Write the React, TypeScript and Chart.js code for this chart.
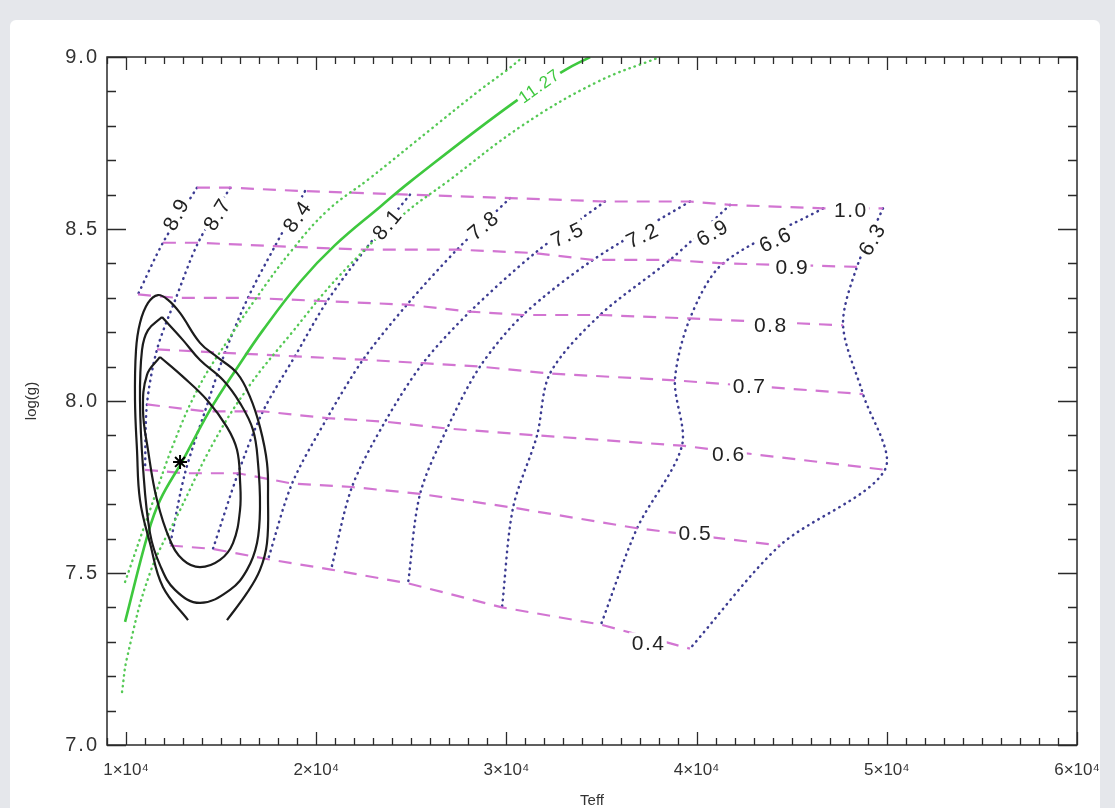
import React, { useEffect, useRef } from "react";
import { Chart, registerables } from "chart.js";
Chart.register(...registerables);

// ---------- axes ----------
const X_MIN = 9000;
const X_MAX = 60000;
const Y_MIN = 7.0;
const Y_MAX = 9.0;
const X_TICK_VALUES = [10000, 20000, 30000, 40000, 50000, 60000];
const X_TICK_LABELS = ["1×10⁴", "2×10⁴", "3×10⁴", "4×10⁴", "5×10⁴", "6×10⁴"];
const Y_TICK_VALUES = [7.0, 7.5, 8.0, 8.5, 9.0];
const Y_TICK_LABELS = ["7.0", "7.5", "8.0", "8.5", "9.0"];
const X_TITLE = "Teff";
const Y_TITLE = "log(g)";

// ---------- mass lines (labels) ----------
const MASS_LABELS = ["1.0", "0.9", "0.8", "0.7", "0.6", "0.5", "0.4"];
const MASS_LABEL_TEFF = [48070, 45000, 43860, 42750, 41650, 39900, 37440];
const MASS_LABEL_LOGG = [8.555, 8.39, 8.221, 8.044, 7.846, 7.616, 7.297];

// ---------- isochrone labels (log age) ----------
const AGE_LABELS = ["8.9", "8.7", "8.4", "8.1", "7.8", "7.5", "7.2", "6.9", "6.6", "6.3"];
const AGE_LABEL_TEFF = [12630, 14780, 18990, 23720, 28770, 33190, 37130, 40810, 44120, 49220];
const AGE_LABEL_LOGG = [8.541, 8.541, 8.535, 8.512, 8.509, 8.483, 8.48, 8.488, 8.468, 8.468];
const AGE_LABEL_ANGLE = [-62, -58, -55, -50, -40, -25, -25, -30, -25, -60];

// ---------- isochrones: Teff / logg at masses 1.0 .. 0.4 ----------
const ISO_89_TEFF = [13730, 11940, 10630, null, null, null, null];
const ISO_89_LOGG = [8.62, 8.46, 8.31, null, null, null, null];
const ISO_87_TEFF = [15470, 13790, 12630, 11630, 11100, 11000, null];
const ISO_87_LOGG = [8.62, 8.46, 8.3, 8.15, 7.99, 7.8, null];
const ISO_84_TEFF = [19410, 17830, 16410, 15200, 14150, 13100, 12310];
const ISO_84_LOGG = [8.61, 8.45, 8.3, 8.14, 7.97, 7.79, 7.58];
const ISO_81_TEFF = [24930, 22570, 20570, 18880, 17200, 15890, 14570];
const ISO_81_LOGG = [8.6, 8.44, 8.29, 8.13, 7.97, 7.79, 7.57];
const ISO_78_TEFF = [30190, 27400, 24770, 22460, 20570, 18730, 17470];
const ISO_78_LOGG = [8.59, 8.44, 8.28, 8.12, 7.95, 7.76, 7.54];
const ISO_75_TEFF = [35180, 31500, 28090, 25610, 23620, 21880, 20780];
const ISO_75_LOGG = [8.58, 8.43, 8.26, 8.11, 7.94, 7.75, 7.51];
const ISO_72_TEFF = [39650, 34550, 30870, 28610, 26880, 25460, 24830];
const ISO_72_LOGG = [8.58, 8.41, 8.25, 8.1, 7.92, 7.73, 7.47];
const ISO_69_TEFF = [41760, 38600, 34920, 32290, 31610, 30350, 29770];
const ISO_69_LOGG = [8.57, 8.41, 8.25, 8.08, 7.9, 7.69, 7.4];
const ISO_66_TEFF = [46650, 41390, 39650, 38860, 39230, 36870, 34970];
const ISO_66_LOGG = [8.56, 8.4, 8.24, 8.06, 7.87, 7.63, 7.35];
const ISO_63_TEFF = [49800, 48430, 47700, 48750, 49900, 44380, 39650];
const ISO_63_LOGG = [8.56, 8.39, 8.22, 8.02, 7.8, 7.58, 7.28];

// ---------- green curves ----------
const GREEN_LABEL = "11.27";
const GREEN_LABEL_TEFF = 31700;
const GREEN_LABEL_LOGG = 8.915;
const GREEN_TEFF = [9950, 11160, 11790, 13000, 14420, 15840, 17200, 19150, 20990, 23350, 24930, 30350, 33080, 34400];
const GREEN_LOGG = [7.358, 7.616, 7.712, 7.829, 7.974, 8.096, 8.206, 8.346, 8.453, 8.564, 8.637, 8.866, 8.962, 9.0];
const GREEN_HI_TEFF = [9950, 11260, 12580, 13890, 15360, 16780, 18730, 20620, 22830, 25980, 28610, 30030, 30870];
const GREEN_HI_LOGG = [7.474, 7.683, 7.887, 8.047, 8.177, 8.294, 8.439, 8.555, 8.648, 8.788, 8.904, 8.962, 9.0];
const GREEN_LO_TEFF = [9790, 10050, 11260, 12840, 14680, 16520, 18620, 21250, 24560, 26880, 30870, 34760, 38080];
const GREEN_LO_LOGG = [7.154, 7.253, 7.5, 7.683, 7.887, 8.047, 8.192, 8.366, 8.541, 8.637, 8.802, 8.927, 9.0];

// ---------- confidence contours ----------
const OUTER_TEFF = [13260, 11940, 11260, 10735, 10577, 10472, 10525, 10735, 11156, 11681, 12207, 12838, 13890, 14783, 15835, 16519, 17044, 17412, 17465, 17412, 17044, 16361, 15309];
const OUTER_LOGG = [7.363, 7.459, 7.587, 7.712, 7.858, 8.003, 8.148, 8.227, 8.285, 8.308, 8.294, 8.256, 8.169, 8.128, 8.081, 8.012, 7.924, 7.82, 7.721, 7.587, 7.509, 7.442, 7.363];
const MIDDLE_TEFF = [11892, 12996, 13890, 15099, 15993, 16676, 16939, 17044, 16887, 16361, 15467, 13890, 12575, 11787, 11261, 10893, 10735, 10840, 11156, 11892];
const MIDDLE_LOGG = [8.244, 8.177, 8.119, 8.061, 7.994, 7.916, 7.82, 7.692, 7.587, 7.509, 7.451, 7.413, 7.451, 7.523, 7.616, 7.808, 8.003, 8.148, 8.206, 8.244];
const INNER_TEFF = [11787, 12943, 14258, 15309, 15835, 15993, 15993, 15625, 14941, 13890, 12996, 12312, 11629, 11156, 10893, 11103, 11787];
const INNER_LOGG = [8.128, 8.073, 8.003, 7.924, 7.858, 7.77, 7.683, 7.587, 7.538, 7.517, 7.538, 7.596, 7.712, 7.858, 7.974, 8.076, 8.128];

// best fit
const STAR_TEFF = [12840];
const STAR_LOGG = [7.823];

// ---------- helpers ----------
const ISO_TEFF = [ISO_89_TEFF, ISO_87_TEFF, ISO_84_TEFF, ISO_81_TEFF, ISO_78_TEFF, ISO_75_TEFF, ISO_72_TEFF, ISO_69_TEFF, ISO_66_TEFF, ISO_63_TEFF];
const ISO_LOGG = [ISO_89_LOGG, ISO_87_LOGG, ISO_84_LOGG, ISO_81_LOGG, ISO_78_LOGG, ISO_75_LOGG, ISO_72_LOGG, ISO_69_LOGG, ISO_66_LOGG, ISO_63_LOGG];

function pts(t: (number | null)[], g: (number | null)[]) {
  const out: { x: number; y: number }[] = [];
  for (let i = 0; i < t.length; i++) {
    const a = t[i];
    const b = g[i];
    if (a != null && b != null) out.push({ x: a, y: b });
  }
  return out;
}

const FONT = "'Liberation Sans', Arial, Helvetica, sans-serif";

const BLUE = "rgba(50,50,140,0.95)";
const MAGENTA = "rgba(208,110,208,0.95)";
const GREEN = "#3ec83e";
const GREEN_DOT = "#55c955";
const BLACK = "#1c1c1c";

function buildDatasets() {
  const ds: any[] = [];
  [[OUTER_TEFF, OUTER_LOGG], [MIDDLE_TEFF, MIDDLE_LOGG], [INNER_TEFF, INNER_LOGG]].forEach(([t, g]) => {
    ds.push({
      data: pts(t, g),
      showLine: true,
      borderColor: BLACK,
      borderWidth: 2.2,
      pointRadius: 0,
      tension: 0.4,
      order: 1,
    });
  });
  ds.push({
    data: pts(STAR_TEFF, STAR_LOGG),
    showLine: false,
    pointStyle: "star",
    pointRadius: 7,
    borderColor: "#000",
    backgroundColor: "#000",
    borderWidth: 2,
    order: 0,
  });
  ds.push({
    data: pts(GREEN_TEFF, GREEN_LOGG),
    showLine: true,
    borderColor: GREEN,
    borderWidth: 2.6,
    pointRadius: 0,
    tension: 0.4,
    order: 2,
  });
  [[GREEN_HI_TEFF, GREEN_HI_LOGG], [GREEN_LO_TEFF, GREEN_LO_LOGG]].forEach(([t, g]) => {
    ds.push({
      data: pts(t, g),
      showLine: true,
      borderColor: GREEN_DOT,
      borderWidth: 2.4,
      borderDash: [0.5, 5],
      borderCapStyle: "round",
      pointRadius: 0,
      tension: 0.4,
      order: 2,
    });
  });
  MASS_LABELS.forEach((_, j) => {
    const t = ISO_TEFF.map((a) => a[j]);
    const g = ISO_LOGG.map((a) => a[j]);
    ds.push({
      data: pts(t, g),
      showLine: true,
      borderColor: MAGENTA,
      borderWidth: 2.2,
      borderDash: [13, 9],
      pointRadius: 0,
      tension: 0,
      order: 3,
    });
  });
  ISO_TEFF.forEach((t, k) => {
    ds.push({
      data: pts(t, ISO_LOGG[k]),
      showLine: true,
      borderColor: BLUE,
      borderWidth: 2.5,
      borderDash: [0.5, 5.5],
      borderCapStyle: "round",
      pointRadius: 0,
      tension: 0.3,
      order: 4,
    });
  });
  return ds;
}

function drawLabel(ctx: CanvasRenderingContext2D, x: number, y: number, text: string, angleDeg: number, color: string, size: number, spacing: number) {
  ctx.save();
  ctx.translate(x, y);
  ctx.rotate((angleDeg * Math.PI) / 180);
  ctx.font = `${size}px ${FONT}`;
  (ctx as any).letterSpacing = `${spacing}px`;
  const w = ctx.measureText(text).width;
  ctx.fillStyle = "#ffffff";
  ctx.fillRect(-w / 2 - 2, -size / 2, w + 4, size);
  ctx.fillStyle = color;
  ctx.textAlign = "left";
  ctx.textBaseline = "middle";
  ctx.fillText(text, -w / 2 + spacing / 2, 1);
  ctx.restore();
}

const backgroundPlugin = {
  id: "bg",
  beforeDraw(chart: any) {
    const { ctx, width, height } = chart;
    ctx.save();
    ctx.fillStyle = "#e5e7eb";
    ctx.fillRect(0, 0, width, height);
    ctx.fillStyle = "#ffffff";
    ctx.beginPath();
    if ((ctx as any).roundRect) (ctx as any).roundRect(10, 20, 1090, height, 6);
    else ctx.rect(10, 20, 1090, height);
    ctx.fill();
    ctx.restore();
  },
  afterLayout(chart: any) {
    const s = chart.scales.y;
    if (s && !s.__spaced) {
      const orig = s.drawLabels.bind(s);
      s.drawLabels = (ca: any) => {
        const c = chart.ctx as any;
        const prev = c.letterSpacing;
        c.letterSpacing = "2px";
        orig(ca);
        c.letterSpacing = prev || "0px";
      };
      s.__spaced = true;
    }
  },
};

const labelsPlugin = {
  id: "contourLabels",
  afterDatasetsDraw(chart: any) {
    const { ctx, scales } = chart;
    const x = scales.x;
    const y = scales.y;
    MASS_LABELS.forEach((lab, i) => {
      drawLabel(ctx, x.getPixelForValue(MASS_LABEL_TEFF[i]), y.getPixelForValue(MASS_LABEL_LOGG[i]), lab, 0, "#222", 21, 1.5);
    });
    AGE_LABELS.forEach((lab, i) => {
      drawLabel(ctx, x.getPixelForValue(AGE_LABEL_TEFF[i]), y.getPixelForValue(AGE_LABEL_LOGG[i]), lab, AGE_LABEL_ANGLE[i], "#222", 21, 1.5);
    });
    drawLabel(ctx, x.getPixelForValue(GREEN_LABEL_TEFF), y.getPixelForValue(GREEN_LABEL_LOGG), GREEN_LABEL, -35, "#3ec83e", 17, 1);
  },
};

const framePlugin = {
  id: "frameTicks",
  afterDraw(chart: any) {
    const { ctx, chartArea: a, scales } = chart;
    const x = scales.x;
    const y = scales.y;
    ctx.save();
    ctx.strokeStyle = "#2a2a2a";
    ctx.lineWidth = 1.5;
    ctx.strokeRect(a.left, a.top, a.right - a.left, a.bottom - a.top);
    ctx.lineWidth = 1.3;
    ctx.beginPath();
    const nx = Math.round((X_MAX - X_MIN) / 1000);
    for (let i = 0; i <= nx; i++) {
      const v = X_MIN + i * 1000;
      const px = Math.round(x.getPixelForValue(v)) + 0.5;
      const len = v % 10000 === 0 ? 13 : 7;
      ctx.moveTo(px, a.bottom);
      ctx.lineTo(px, a.bottom - len);
      ctx.moveTo(px, a.top);
      ctx.lineTo(px, a.top + len);
    }
    const ny = Math.round((Y_MAX - Y_MIN) / 0.1);
    for (let i = 0; i <= ny; i++) {
      const v = Y_MIN + i * 0.1;
      const py = Math.round(y.getPixelForValue(v)) + 0.5;
      const len = i % 5 === 0 ? 19 : 9;
      ctx.moveTo(a.left, py);
      ctx.lineTo(a.left + len, py);
      ctx.moveTo(a.right, py);
      ctx.lineTo(a.right - len, py);
    }
    ctx.stroke();
    ctx.restore();
  },
};

export default function App() {
  const ref = useRef<HTMLCanvasElement>(null);
  useEffect(() => {
    if (!ref.current) return;
    const chart = new Chart(ref.current, {
      type: "scatter",
      data: { datasets: buildDatasets() },
      options: {
        animation: false,
        responsive: false,
        devicePixelRatio: 1,
        events: [],
        layout: { padding: { left: 0, top: 57, right: 38, bottom: 0 } },
        plugins: { legend: { display: false }, tooltip: { enabled: false } },
        scales: {
          x: {
            type: "linear",
            min: X_MIN,
            max: X_MAX,
            grid: { display: false, drawTicks: false },
            border: { display: false },
            afterBuildTicks: (scale: any) => {
              scale.ticks = X_TICK_VALUES.map((v) => ({ value: v }));
            },
            afterFit: (scale: any) => {
              scale.height = 63;
            },
            ticks: {
              autoSkip: false,
              maxRotation: 0,
              padding: 15,
              color: "#333",
              font: { family: FONT, size: 17 },
              callback: (v: any) => {
                const i = X_TICK_VALUES.indexOf(Number(v));
                return i >= 0 ? X_TICK_LABELS[i] : "";
              },
            },
            title: {
              display: true,
              text: X_TITLE,
              color: "#333",
              font: { family: FONT, size: 15 },
              padding: { top: 0, bottom: -2 },
            },
          },
          y: {
            type: "linear",
            min: Y_MIN,
            max: Y_MAX,
            grid: { display: false, drawTicks: false },
            border: { display: false },
            afterBuildTicks: (scale: any) => {
              scale.ticks = Y_TICK_VALUES.map((v) => ({ value: v }));
            },
            afterFit: (scale: any) => {
              scale.width = 107;
            },
            ticks: {
              autoSkip: false,
              padding: 8,
              color: "#333",
              font: { family: FONT, size: 20 },
              callback: (v: any) => {
                const i = Y_TICK_VALUES.findIndex((t) => Math.abs(t - Number(v)) < 1e-6);
                return i >= 0 ? Y_TICK_LABELS[i] : "";
              },
            },
            title: {
              display: true,
              text: Y_TITLE,
              color: "#333",
              font: { family: FONT, size: 15 },
              padding: { top: 23, bottom: 0 },
            },
          },
        },
      },
      plugins: [backgroundPlugin, labelsPlugin, framePlugin],
    } as any);
    return () => chart.destroy();
  }, []);
  return (
    <div style={{ position: "fixed", left: 0, top: 0, width: 1115, height: 808 }}>
      <canvas ref={ref} width={1115} height={808} style={{ width: 1115, height: 808, display: "block" }} />
    </div>
  );
}
